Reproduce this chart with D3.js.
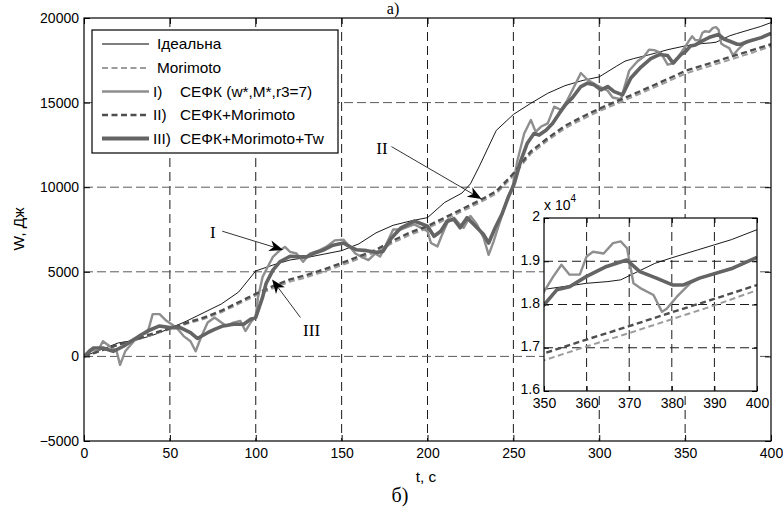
<!DOCTYPE html>
<html><head><meta charset="utf-8">
<script src="https://cdn.jsdelivr.net/npm/d3@7"></script>
<style>body{margin:0;background:#fff} svg{display:block}</style>
</head><body><svg id="c" width="783" height="509"></svg>
<script>
// ---------------- data ----------------
const tIdeal=[0,10,20,30,40,50,60,70,80,90,100,110,120,130,140,150,160,170,180,190,200,210,220,225,230,240,250,260,270,280,290,300,310,315,320,330,340,350,355,360,365,368,372,376,380,386,390,394,400];
const vIdeal=[0,400,800,950,1250,1650,2100,2600,3100,3800,5050,5400,5700,5850,6050,6250,6650,7300,7750,8000,8200,9100,9650,10200,11200,13350,14300,14950,15550,16000,16300,16520,17150,17450,17600,17850,18130,18350,18420,18490,18530,18570,18760,18950,19080,19260,19380,19500,19730];

const tSmooth=[0,10,20,30,40,50,60,70,80,90,100,110,120,130,140,150,160,170,180,190,200,210,220,230,240,250,260,270,280,290,300,310,320,330,340,350,360,370,380,390,400];
const vMorimoto=[0,330,670,960,1300,1600,1930,2220,2610,3100,3590,4030,4420,4690,5020,5390,5770,6170,6720,7200,7570,8070,8570,9070,9620,10670,11960,12760,13480,14010,14500,14930,15360,15810,16250,16710,17030,17340,17660,17980,18330];
const vII=[0,350,700,1000,1350,1660,2000,2300,2700,3200,3700,4150,4550,4820,5150,5520,5900,6300,6850,7330,7700,8200,8700,9200,9750,10800,12100,12900,13620,14150,14640,15070,15500,15950,16400,16870,17190,17500,17820,18130,18450];

const tI=[0,3.5,8,11,15,19,21,24,29,33,37,40,44,48,54,58,62,65,68,72,76,80,83,87,91,94,97,100,101.4,104,107,110,114,117,120,123.7,127.6,131.5,137,141,146,151,154,158,161.7,165.6,169.5,172.4,176.3,180,184.6,192.3,200,202,205.8,207.7,211.5,215.4,218,221,225,228.8,232.7,235.6,238.5,242.3,246,249.5,252.4,256.3,260.2,263,266,270,273.8,277.7,281.5,285.4,289.3,293.2,299,304.9,307.8,312.6,317.5,322.3,326.2,329,332,335.9,339.8,343.7,347.6,350,352.2,354.1,356,358.4,360,361.5,364,366.2,368,369.5,371,372.6,375.7,377.7,378.8,381.2,384.3,386.5,394.3,400];
const vI=[0,400,300,900,600,300,-500,300,900,1300,1400,2500,2500,2100,1700,1200,900,300,1100,2000,2300,2000,1800,2000,2100,1500,2000,2400,3530,4700,5300,5880,6270,6470,6180,6080,5590,6080,6270,6470,6860,6900,6570,6080,5880,5690,6080,5900,6700,7500,7500,7800,7400,6700,6500,7000,7900,8200,7900,7600,8300,7800,7000,6000,6800,8000,9200,10000,11590,13170,13970,13270,13570,13770,14760,14560,15160,15950,16750,16350,16000,15700,15300,15200,16900,17440,17740,18130,18100,17940,17240,17340,17940,18300,18650,18920,18690,18690,19110,19220,19180,19420,19460,19300,18490,18380,18220,17830,17900,18180,18490,18610,18840,19090];

const tIII=[0,5.5,11,17,23,29,37,44,50,56,62,66,72,76,81,87,93,97,100,104,106,110,114,120,125.7,129.6,133.5,139,145,151,155,158.8,164.6,170.4,174,179,184.6,192.3,200,203.8,207.7,211.5,215.4,219,223,227,232.7,235.6,239.4,243.3,247,250.5,254.4,258,262,265,269,272.8,276.7,280.6,284.5,289.3,293.2,297,301,304.9,308.7,313.6,318.4,324.3,330,335,339.8,343,347.6,350,353,356,360,364.7,369.4,372.5,376.4,380.3,382.6,386.5,394.3,400];
const vIII=[0,500,500,300,600,1000,1500,1800,1700,1700,1400,1060,1400,1600,1800,1900,1900,2200,2300,3500,4310,5100,5590,5920,5880,5880,6080,6270,6570,6700,6470,6300,6250,6150,6200,7000,7600,8000,7700,7100,7400,8000,8100,7600,8200,7800,7200,6700,7600,8400,9400,10200,11590,12580,13170,13080,13370,13770,14360,14900,15300,15950,16150,16050,15750,15950,15650,15460,16450,17100,17600,17840,17780,17340,17840,17990,18340,18410,18650,18880,19030,18760,18610,18450,18450,18610,18840,19090];

const xTicks=[0,50,100,150,200,250,300,350,400];
const yTicks=[-5000,0,5000,10000,15000,20000];
const xTicksInset=[350,360,370,380,390,400];
const yTicksInset=[16000,17000,18000,19000,20000];
const yTickLabelsInset=["1.6","1.7","1.8","1.9","2"];

const legendPrefix=["","","I)","II)","III)"];
const legendLabels=["Ідеальна","Morimoto","СЕФК (w*,M*,r3=7)","СЕФК+Morimoto","СЕФК+Morimoto+Tw"];

// annotations: label, label pos [t,v], line start [t,v], arrow tip [t,v]
const annotations=[
  {label:"I",   pos:[75,7370],    from:[80.5,7400], tip:[116,6290]},
  {label:"II",  pos:[173.5,12300],from:[179,12400], tip:[231.5,9300]},
  {label:"III", pos:[132.5,1550], from:[126,2300],  tip:[109.5,4550]}
];

// ---------------- drawing ----------------
const SANS='"Liberation Sans",Arial,Helvetica,sans-serif';
const SERIF='"Liberation Serif","Times New Roman",Times,serif';
const FS='14px';
const SX=1.1; // horizontal stretch of the reference's lettering

const svg=d3.select('#c');
svg.append('rect').attr('width',783).attr('height',509).attr('fill','#fff');
const L=84,R=771,T=18,B=441;
const x=d3.scaleLinear([0,400],[L,R]);
const y=d3.scaleLinear([-5000,20000],[B,T]);

const series=[
  {t:tIdeal,v:vIdeal,color:'#000',w:0.9,dash:null},
  {t:tSmooth,v:vMorimoto,color:'#9c9c9c',w:2,dash:'6,3.5'},
  {t:tI,v:vI,color:'#8e8e8e',w:2.4,dash:null},
  {t:tSmooth,v:vII,color:'#4e4e4e',w:2.4,dash:'6,3.5'},
  {t:tIII,v:vIII,color:'#646464',w:3.6,dash:null}
];

function txt(parent,px,py,str,opt={}){
  const t=parent.append('text')
    .attr('transform',`translate(${px},${py})${opt.rot?` rotate(${opt.rot})`:''} scale(${opt.sx||SX},1)`)
    .attr('text-anchor',opt.anchor||'start').attr('dy',opt.dy||'0.36em')
    .style('font-family',opt.family||SANS).style('font-size',opt.size||FS).attr('fill','#000').text(str);
  return t;
}

// grid
const grid=svg.append('g');
grid.selectAll('line.gv').data(xTicks.slice(1,-1)).join('line')
  .attr('x1',d=>x(d)).attr('x2',d=>x(d)).attr('y1',T).attr('y2',B)
  .attr('stroke','#1a1a1a').attr('stroke-width',1).attr('stroke-dasharray','9,5');
grid.selectAll('line.gh').data(yTicks.slice(1,-1)).join('line')
  .attr('x1',L).attr('x2',R).attr('y1',d=>y(d)).attr('y2',d=>y(d))
  .attr('stroke','#5a5a5a').attr('stroke-width',1).attr('stroke-dasharray','9,4');

svg.append('clipPath').attr('id','cm').append('rect').attr('x',L).attr('y',T).attr('width',R-L).attr('height',B-T);
const line=d3.line().x(d=>x(d[0])).y(d=>y(d[1]));
const gm=svg.append('g').attr('clip-path','url(#cm)');
series.forEach(s=>{
  gm.append('path').attr('d',line(d3.zip(s.t,s.v))).attr('fill','none')
    .attr('stroke',s.color).attr('stroke-width',s.w).attr('stroke-linejoin','round')
    .attr('stroke-dasharray',s.dash);
});

// axes
function styleAxis(g){
  g.select('.domain').remove();
  g.selectAll('text').style('font-size',FS).style('font-family',SANS).attr('fill','#000');
  g.selectAll('line').attr('stroke','#000');
}
svg.append('g').attr('transform',`translate(0,${B})`).call(d3.axisBottom(x).tickValues(xTicks).tickSize(-6).tickPadding(7)).call(styleAxis);
svg.append('g').attr('transform',`translate(0,${T})`).call(d3.axisTop(x).tickValues(xTicks).tickSize(-6).tickFormat('')).call(styleAxis);
svg.append('g').attr('transform',`translate(${L},0)`).call(d3.axisLeft(y).tickValues(yTicks).tickSize(-6).tickPadding(5).tickFormat(d3.format('d'))).call(styleAxis);
svg.append('g').attr('transform',`translate(${R},0)`).call(d3.axisRight(y).tickValues(yTicks).tickSize(-6).tickFormat('')).call(styleAxis);
svg.append('rect').attr('x',L).attr('y',T).attr('width',R-L).attr('height',B-T).attr('fill','none').attr('stroke','#000').attr('stroke-width',1.2);

// axis labels
txt(svg,426,477,'t, c',{anchor:'middle'});
txt(svg,19,229,'W, Дж',{anchor:'middle',rot:-90});
txt(svg,400,495,'б)',{anchor:'middle',family:SERIF,size:'20px',sx:1});
txt(svg,393,14,'а)',{anchor:'middle',family:SERIF,size:'16px',sx:1,dy:'0'});

// legend
const lg=svg.append('g');
lg.append('rect').attr('x',92).attr('y',30).attr('width',246).attr('height',123).attr('fill','#fff').attr('stroke','#000').attr('stroke-width',1.2);
const rowY=[44,68,91.5,115,138.5];
series.forEach((s,i)=>{
  lg.append('line').attr('x1',102).attr('x2',149).attr('y1',rowY[i]).attr('y2',rowY[i])
    .attr('stroke',s.color).attr('stroke-width',i===4?4:(i===0?1:s.w)).attr('stroke-dasharray',s.dash);
  if(legendPrefix[i]){
    txt(lg,153,rowY[i],legendPrefix[i]);
    txt(lg,180,rowY[i],legendLabels[i]);
  } else {
    txt(lg,157,rowY[i],legendLabels[i]);
  }
});

// annotations
const ag=svg.append('g');
annotations.forEach(a=>{
  const sx=x(a.from[0]),sy=y(a.from[1]),tx=x(a.tip[0]),ty=y(a.tip[1]);
  const len=Math.hypot(tx-sx,ty-sy),ux=(tx-sx)/len,uy=(ty-sy)/len,px=-uy,py=ux;
  const HL=14,HW=5.5,N=10;
  ag.append('line').attr('x1',sx).attr('y1',sy).attr('x2',tx-ux*N).attr('y2',ty-uy*N).attr('stroke','#000').attr('stroke-width',0.8);
  const pts=[[tx,ty],[tx-ux*HL+px*HW,ty-uy*HL+py*HW],[tx-ux*N,ty-uy*N],[tx-ux*HL-px*HW,ty-uy*HL-py*HW]];
  ag.append('path').attr('d','M'+pts.map(p=>p.join(',')).join('L')+'Z').attr('fill','#000');
  txt(ag,x(a.pos[0]),y(a.pos[1]),a.label,{anchor:'middle',family:SERIF,size:'17px',dy:'0.35em',sx:1});
});

// inset
const IL=544,IR=757,IT=218,IB=391;
const xi=d3.scaleLinear([350,400],[IL,IR]);
const yi=d3.scaleLinear([16000,20000],[IB,IT]);
const ig=svg.append('g');
ig.append('rect').attr('x',IL).attr('y',IT).attr('width',IR-IL).attr('height',IB-IT).attr('fill','#fff');
ig.selectAll('line.gv').data(xTicksInset.slice(1,-1)).join('line')
  .attr('x1',d=>xi(d)).attr('x2',d=>xi(d)).attr('y1',IT).attr('y2',IB)
  .attr('stroke','#1a1a1a').attr('stroke-dasharray','9,5');
ig.selectAll('line.gh').data(yTicksInset.slice(1,-1)).join('line')
  .attr('x1',IL).attr('x2',IR).attr('y1',d=>yi(d)).attr('y2',d=>yi(d))
  .attr('stroke','#1a1a1a').attr('stroke-dasharray','9,5');
svg.append('clipPath').attr('id','ci').append('rect').attr('x',IL).attr('y',IT).attr('width',IR-IL).attr('height',IB-IT);
const linei=d3.line().x(d=>xi(d[0])).y(d=>yi(d[1]));
const gi=ig.append('g').attr('clip-path','url(#ci)');
series.forEach(s=>{
  gi.append('path').attr('d',linei(d3.zip(s.t,s.v))).attr('fill','none')
    .attr('stroke',s.color).attr('stroke-width',s.w).attr('stroke-linejoin','round')
    .attr('stroke-dasharray',s.dash);
});
ig.append('g').attr('transform',`translate(0,${IB})`).call(d3.axisBottom(xi).tickValues(xTicksInset).tickSize(-5).tickPadding(7)).call(styleAxis);
ig.append('g').attr('transform',`translate(0,${IT})`).call(d3.axisTop(xi).tickValues(xTicksInset).tickSize(-5).tickFormat('')).call(styleAxis);
const yax=ig.append('g').attr('transform',`translate(${IL},0)`).call(d3.axisLeft(yi).tickValues(yTicksInset).tickSize(-5).tickPadding(4).tickFormat((d,i)=>yTickLabelsInset[i])).call(styleAxis);
yax.selectAll('text').attr('dy','0.2em');
ig.append('g').attr('transform',`translate(${IR},0)`).call(d3.axisRight(yi).tickValues(yTicksInset).tickSize(-5).tickFormat('')).call(styleAxis);
ig.append('rect').attr('x',IL).attr('y',IT).attr('width',IR-IL).attr('height',IB-IT).attr('fill','none').attr('stroke','#000').attr('stroke-width',1.2);
const sup=ig.append('text').attr('x',IL).attr('y',210).style('font-family',SANS).style('font-size',FS);
sup.append('tspan').text('x 10');
sup.append('tspan').attr('dy',-8).style('font-size','10px').text('4');
</script></body></html>
